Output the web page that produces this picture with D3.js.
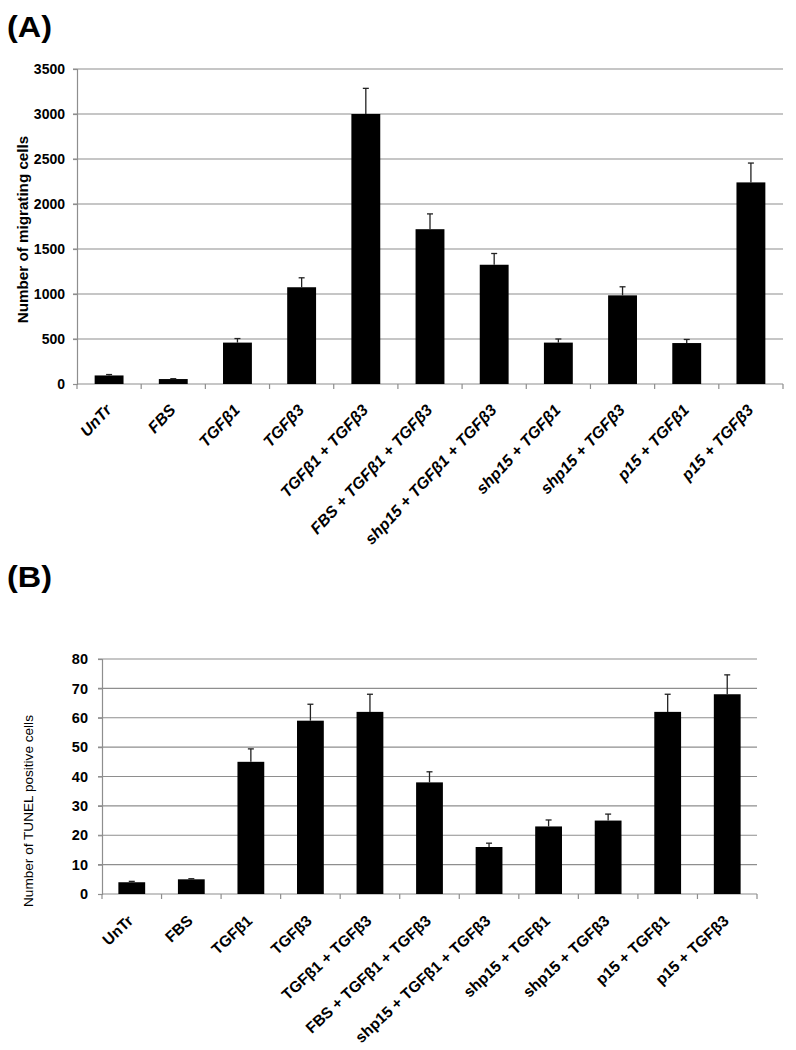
<!DOCTYPE html>
<html>
<head>
<meta charset="utf-8">
<script src="https://cdn.jsdelivr.net/npm/d3@7"></script>
<style>
  body { margin: 0; background: #fff; }
  svg { display: block; font-family: Arial, "Liberation Sans", sans-serif; }
</style>
</head>
<body>
<script>
// ---- data ----
const categories = ["UnTr", "FBS", "TGFβ1", "TGFβ3", "TGFβ1 + TGFβ3", "FBS + TGFβ1 + TGFβ3",
  "shp15 + TGFβ1 + TGFβ3", "shp15 + TGFβ1", "shp15 + TGFβ3", "p15 + TGFβ1", "p15 + TGFβ3"];
const migrating = [95, 55, 460, 1075, 3000, 1720, 1325, 460, 985, 455, 2240];
const migratingErr = [10, 4, 45, 105, 285, 170, 125, 40, 95, 40, 215];
const tunel = [4, 5, 45, 59, 62, 38, 16, 23, 25, 62, 68];
const tunelErr = [0.3, 0.2, 4.4, 5.6, 6, 3.6, 1.3, 2.2, 2.2, 6, 6.6];
const yTicksA = [0, 500, 1000, 1500, 2000, 2500, 3000, 3500];
const yTicksB = [0, 10, 20, 30, 40, 50, 60, 70, 80];

const W = 796, H = 1050;
const svg = d3.select("body").append("svg").attr("width", W).attr("height", H);

function panel(cfg) {
  const g = svg.append("g");
  const x = d3.scaleBand().domain(categories).range([cfg.left, cfg.right])
    .paddingInner(0.55).paddingOuter(0.275);
  const y = d3.scaleLinear().domain([0, cfg.ticks[cfg.ticks.length - 1]]).range([cfg.bottom, cfg.top]);
  const step = x.step();
  const grid = "#8e8e8e";

  // gridlines
  g.selectAll(".grid").data(cfg.ticks.filter(t => t > 0)).enter().append("line")
    .attr("x1", cfg.left - 4).attr("x2", cfg.right)
    .attr("y1", d => y(d)).attr("y2", d => y(d))
    .attr("stroke", grid).attr("stroke-width", 1.2);

  // y axis
  const yAxis = d3.axisLeft(y).tickValues(cfg.ticks).tickFormat(d3.format("d"))
    .tickSize(4).tickPadding(cfg.tickPad);
  const ya = g.append("g").attr("transform", `translate(${cfg.left},0)`).call(yAxis);
  ya.select(".domain").attr("stroke", grid).attr("stroke-width", 1.2);
  ya.selectAll(".tick line").attr("stroke", grid).attr("stroke-width", 1.2);
  ya.selectAll(".tick text").attr("font-size", cfg.tickFont).attr("font-weight", "bold")
    .attr("fill", "#000").attr("font-family", "Arial, 'Liberation Sans', sans-serif");

  // x axis line and boundary ticks
  g.append("line").attr("x1", cfg.left).attr("x2", cfg.right)
    .attr("y1", y(0)).attr("y2", y(0)).attr("stroke", grid).attr("stroke-width", 1.2);
  const bounds = d3.range(categories.length + 1).map(i => cfg.left + i * step);
  g.selectAll(".xt").data(bounds).enter().append("line")
    .attr("x1", d => d).attr("x2", d => d)
    .attr("y1", y(0)).attr("y2", y(0) + 5)
    .attr("stroke", grid).attr("stroke-width", 1.2);

  // bars
  g.selectAll(".bar").data(cfg.values).enter().append("rect")
    .attr("x", (d, i) => x(categories[i]))
    .attr("width", x.bandwidth())
    .attr("y", d => y(d))
    .attr("height", d => y(0) - y(d))
    .attr("fill", "#000");

  // error bars
  const eb = g.selectAll(".err").data(cfg.values).enter().append("g");
  eb.append("line")
    .attr("x1", (d, i) => x(categories[i]) + x.bandwidth() / 2)
    .attr("x2", (d, i) => x(categories[i]) + x.bandwidth() / 2)
    .attr("y1", d => y(d))
    .attr("y2", (d, i) => y(d + cfg.errs[i]))
    .attr("stroke", "#222").attr("stroke-width", 1.3);
  eb.append("line")
    .attr("x1", (d, i) => x(categories[i]) + x.bandwidth() / 2 - 3)
    .attr("x2", (d, i) => x(categories[i]) + x.bandwidth() / 2 + 3)
    .attr("y1", (d, i) => y(d + cfg.errs[i]))
    .attr("y2", (d, i) => y(d + cfg.errs[i]))
    .attr("stroke", "#222").attr("stroke-width", 1.3);

  // x labels
  g.selectAll(".xl").data(categories).enter().append("text")
    .attr("transform", d => `translate(${x(d) + x.bandwidth() / 2 + cfg.labDx},${y(0) + cfg.labDy}) rotate(${cfg.labAngle})`)
    .attr("text-anchor", "end")
    .attr("dy", "0.71em")
    .attr("font-size", cfg.labFont)
    .attr("font-weight", "bold")
    .attr("font-style", cfg.italic ? "italic" : "normal")
    .attr("fill", "#000")
    .text(d => d);

  // y title
  g.append("text")
    .attr("transform", `translate(${cfg.titleX},${cfg.titleY}) rotate(-90)`)
    .attr("text-anchor", "middle")
    .attr("dy", "0.35em")
    .attr("font-size", cfg.titleFont)
    .attr("font-weight", cfg.titleBold ? "bold" : "normal")
    .attr("fill", "#000")
    .text(cfg.title);

  // panel letter
  g.append("text")
    .attr("x", 7).attr("y", cfg.letterY)
    .attr("font-size", 29).attr("font-weight", "bold")
    .attr("textLength", 45).attr("lengthAdjust", "spacingAndGlyphs")
    .attr("fill", "#000")
    .text(cfg.letter);
}

panel({
  letter: "(A)", letterY: 37,
  left: 77, right: 783, top: 69, bottom: 384,
  ticks: yTicksA, values: migrating, errs: migratingErr,
  tickFont: 14, tickPad: 8,
  labFont: 16, italic: true, labDx: -5, labDy: 19, labAngle: -47,
  title: "Number of migrating cells", titleX: 22.5, titleY: 229.5, titleFont: 15.2, titleBold: true
});

panel({
  letter: "(B)", letterY: 587,
  left: 102, right: 757, top: 659, bottom: 894,
  ticks: yTicksB, values: tunel, errs: tunelErr,
  tickFont: 14.5, tickPad: 10,
  labFont: 15.5, italic: false, labDx: -5, labDy: 20, labAngle: -43,
  title: "Number of TUNEL positive cells", titleX: 28, titleY: 811, titleFont: 13.6, titleBold: false
});
</script>
</body>
</html>
